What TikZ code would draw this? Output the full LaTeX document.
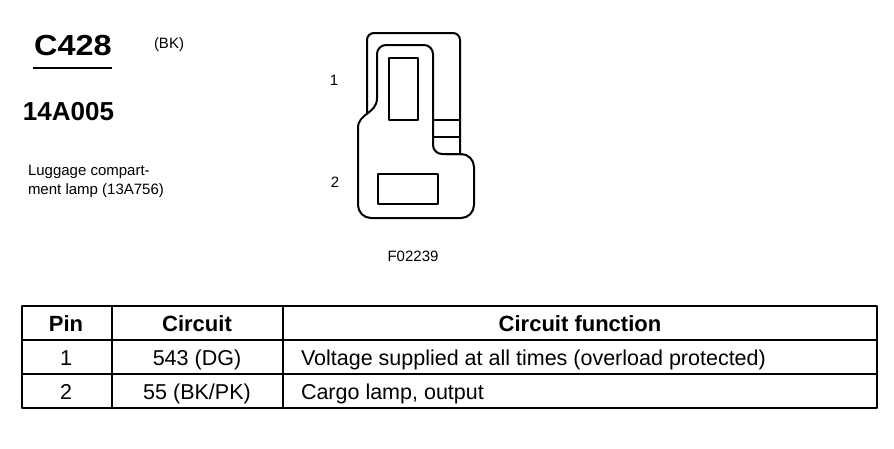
\documentclass[tikz,border=0pt]{standalone}
\usepackage{fontspec}
\setmainfont{Liberation Sans}
\usepackage{tikz}
\usetikzlibrary{positioning}
\usetikzlibrary{calc}
\tikzset{head node/.style={inner sep=0pt,anchor=base,font=\fontsize{22}{26}\selectfont\bfseries},
cell node/.style={inner sep=0pt,anchor=base,font=\fontsize{21.5}{26}\selectfont},
pin label/.style={inner sep=0pt,font=\fontsize{15}{18}\selectfont},}

\begin{document}
\begin{tikzpicture}[x=1pt,y=-1pt,line width=2pt,line join=round]
	\useasboundingbox (0,0) rectangle (894,448);
		% titles
		\node[inner sep=0pt,anchor=base,font=\fontsize{29}{32}\selectfont\bfseries] (conn) at (73,55) {\scalebox{1.12}[1]{C428}};
		\node[pin label] (col) at (169,45) {(BK)};
		\coordinate (ul) at (33,68);
		\coordinate (ur) at (112,68);
		\draw[line width=2.5pt] (ul) -- (ur);
		\node[inner sep=0pt,font=\fontsize{26}{30}\selectfont\bfseries,anchor=west] (part) at (22,112) {14A005};
		\node[pin label,anchor=north west,align=left] (desc) at (27,164) {Luggage compart-\\[1pt]ment lamp (13A756)};

		% connector face
		\draw[rounded corners=7] (367,113) -- (367,33) -- (460,33) -- (460,154);
		\draw[rounded corners=13] (445,154) -- (474,154) -- (474,218) -- (358,218) -- (358,128);
		\draw (358,128) .. controls (358,113) and (377,114) .. (377,98);
		\draw[rounded corners=9] (377,98) -- (377,45) -- (433,45) -- (433,154) -- (462,154);
		\draw (433,120) -- (460,120);
		\draw (433,137) -- (460,137);
		\draw (389,58) rectangle (418,120);
		\draw (378,174) rectangle (438,204);
		\node[pin label] (p1) at (334,80) {1};
		\node[pin label] (p2) at (335,182) {2};
		\node[pin label] (fig) at (413,256) {F02239};

		% table
		\draw (22,306) rectangle (877,408);
		\draw (22,340) -- (877,340);
		\draw (22,374) -- (877,374);
		\draw (112,306) -- (112,408);
		\draw (283,306) -- (283,408);
		\node[head node] (hpin) at (66,331) {Pin};
		\node[head node] (hcirc) at (197,331) {Circuit};
		\node[head node] (hfunc) at (580,331) {Circuit function};
		\node[cell node] (pa) at (66,365) {1};
		\node[cell node] (ca) at (197,365) {543 (DG)};
		\node[cell node,anchor=base west] (fa) at (300,365) {Voltage supplied at all times (overload protected)};
		\node[cell node] (pb) at (66,399) {2};
		\node[cell node] (cb) at (197,399) {55 (BK/PK)};
		\node[cell node,anchor=base west] (fb) at (300,399) {Cargo lamp, output};
	\end{tikzpicture}
\end{document}
